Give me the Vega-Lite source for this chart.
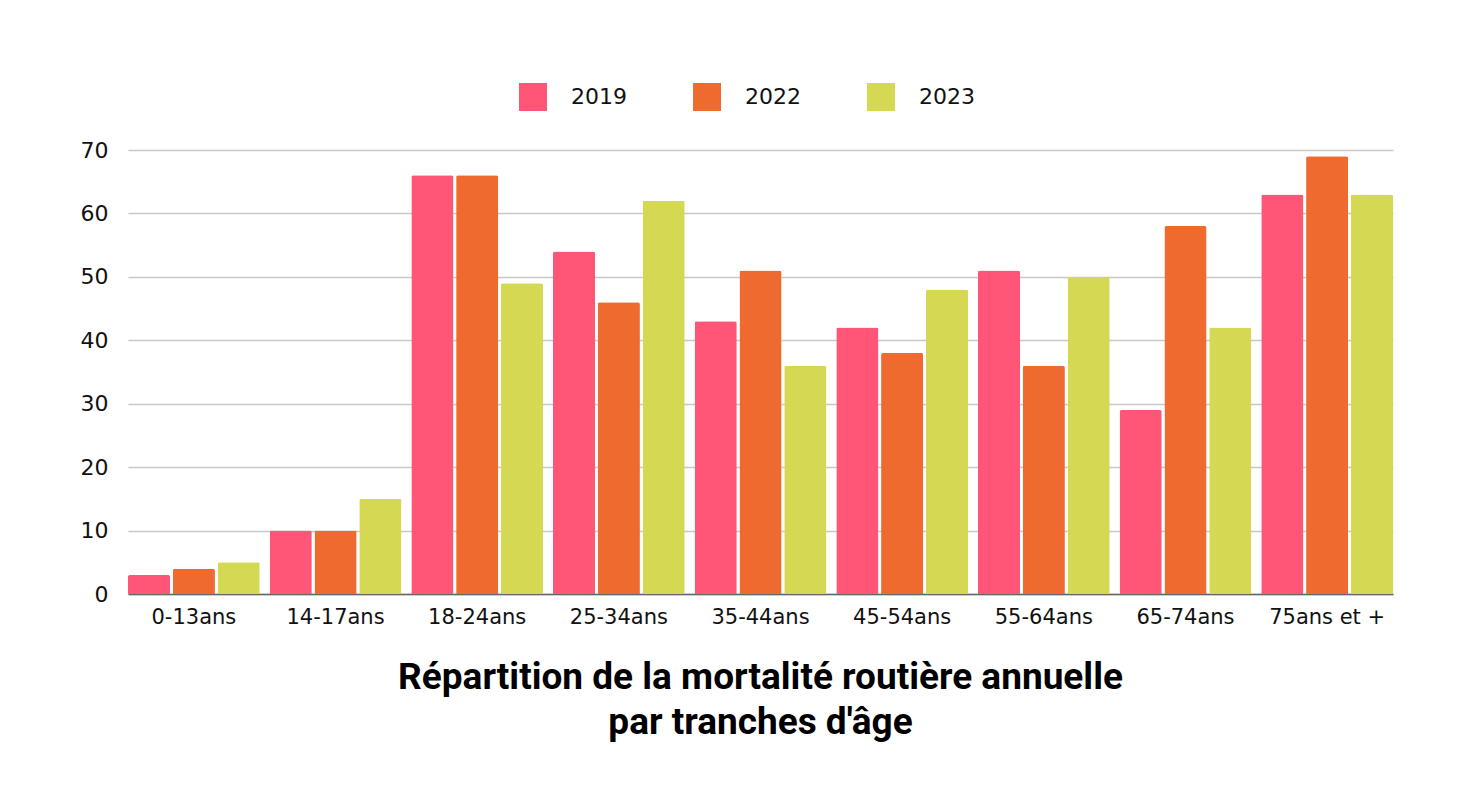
{
  "$schema": "https://vega.github.io/schema/vega-lite/v6.json",
  "autosize": "none",
  "width": 1265,
  "height": 444,
  "padding": {"left": 128, "top": 150, "right": 76, "bottom": 199},
  "background": "white",
  "data": {
    "values": [
      {"age": "0-13ans", "year": "2019", "value": 3},
      {"age": "0-13ans", "year": "2022", "value": 4},
      {"age": "0-13ans", "year": "2023", "value": 5},
      {"age": "14-17ans", "year": "2019", "value": 10},
      {"age": "14-17ans", "year": "2022", "value": 10},
      {"age": "14-17ans", "year": "2023", "value": 15},
      {"age": "18-24ans", "year": "2019", "value": 66},
      {"age": "18-24ans", "year": "2022", "value": 66},
      {"age": "18-24ans", "year": "2023", "value": 49},
      {"age": "25-34ans", "year": "2019", "value": 54},
      {"age": "25-34ans", "year": "2022", "value": 46},
      {"age": "25-34ans", "year": "2023", "value": 62},
      {"age": "35-44ans", "year": "2019", "value": 43},
      {"age": "35-44ans", "year": "2022", "value": 51},
      {"age": "35-44ans", "year": "2023", "value": 36},
      {"age": "45-54ans", "year": "2019", "value": 42},
      {"age": "45-54ans", "year": "2022", "value": 38},
      {"age": "45-54ans", "year": "2023", "value": 48},
      {"age": "55-64ans", "year": "2019", "value": 51},
      {"age": "55-64ans", "year": "2022", "value": 36},
      {"age": "55-64ans", "year": "2023", "value": 50},
      {"age": "65-74ans", "year": "2019", "value": 29},
      {"age": "65-74ans", "year": "2022", "value": 58},
      {"age": "65-74ans", "year": "2023", "value": 42},
      {"age": "75ans et +", "year": "2019", "value": 63},
      {"age": "75ans et +", "year": "2022", "value": 69},
      {"age": "75ans et +", "year": "2023", "value": 63}
    ]
  },
  "title": {
    "text": ["Répartition de la mortalité routière annuelle", "par tranches d'âge"],
    "orient": "bottom",
    "anchor": "middle",
    "font": "Roboto",
    "fontSize": 37,
    "fontWeight": "bold",
    "lineHeight": 45,
    "color": "#000000",
    "offset": 33
  },
  "mark": {"type": "bar", "cornerRadiusTopLeft": 2, "cornerRadiusTopRight": 2},
  "encoding": {
    "x": {
      "field": "age",
      "type": "nominal",
      "sort": null,
      "scale": {"paddingInner": 0.07, "paddingOuter": 0.0},
      "axis": {
        "title": null,
        "labelAngle": 0,
        "labelFont": "DejaVu Sans",
        "labelFontSize": 21,
        "labelColor": "#111111",
        "labelPadding": 12,
        "ticks": false,
        "domainColor": "#666666",
        "domainWidth": 1.5,
        "grid": false
      }
    },
    "xOffset": {
      "field": "year",
      "type": "nominal",
      "scale": {"paddingInner": 0.06}
    },
    "y": {
      "field": "value",
      "type": "quantitative",
      "scale": {"domain": [0, 70]},
      "axis": {
        "title": null,
        "values": [0, 10, 20, 30, 40, 50, 60, 70],
        "labelFont": "DejaVu Sans",
        "labelFontSize": 22,
        "labelColor": "#111111",
        "labelPadding": 20,
        "ticks": false,
        "domain": false,
        "gridColor": "#c8c8c8",
        "gridWidth": 1.5
      }
    },
    "color": {
      "field": "year",
      "type": "nominal",
      "scale": {"domain": ["2019", "2022", "2023"], "range": ["#FF5577", "#EE6A2E", "#D4D852"]},
      "legend": {
        "title": null,
        "orient": "none",
        "direction": "horizontal",
        "legendX": 391,
        "legendY": -67,
        "symbolType": "square",
        "symbolSize": 784,
        "symbolStrokeWidth": 0,
        "symbolOpacity": 1,
        "labelFont": "DejaVu Sans",
        "labelFontSize": 22,
        "labelColor": "#111111",
        "labelOffset": 24,
        "columnPadding": 66,
        "labelLimit": 200
      }
    }
  },
  "config": {
    "view": {"stroke": null}
  }
}
